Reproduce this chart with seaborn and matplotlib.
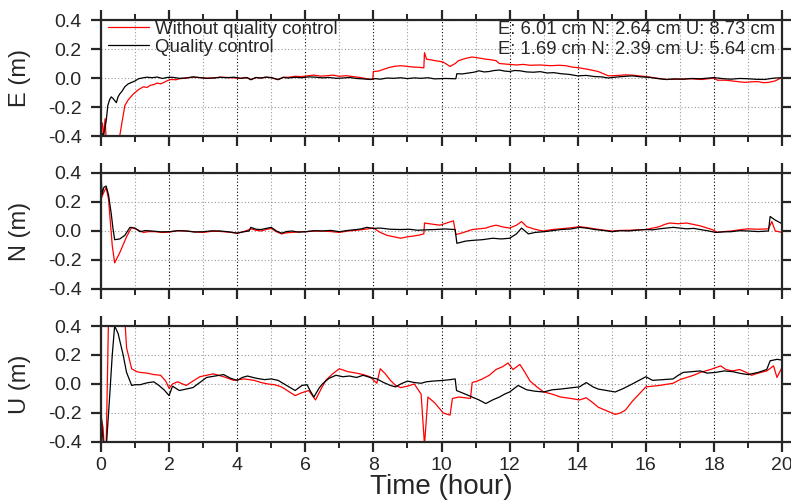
import numpy as np
import matplotlib
matplotlib.use("Agg")
import matplotlib.pyplot as plt
import seaborn as sns
from matplotlib.ticker import MultipleLocator

# (time in hours, position error in m)
e_black = [(0, -0.4), (0.03, -0.38), (0.06, -0.42), (0.1, -0.36), (0.15, -0.3), (0.2, -0.19), (0.25, -0.15),
           (0.3, -0.13), (0.35, -0.14), (0.45, -0.17), (0.5, -0.13), (0.55, -0.11), (0.62, -0.09), (0.7, -0.06),
           (0.8, -0.04), (0.9, -0.03), (1.0, -0.02), (1.1, -0.005), (1.2, 0.0), (1.35, 0.006), (1.5, 0.002),
           (1.65, 0.007), (1.8, -0.003), (1.95, 0.004), (2.1, 0.005), (2.3, -0.002), (2.5, 0.0), (2.7, 0.008),
           (2.9, 0.003), (3.1, -0.002), (3.3, 0.0), (3.5, 0.005), (3.7, 0.002), (3.9, 0.006), (4.1, -0.002),
           (4.3, 0.003), (4.4, -0.012), (4.55, 0.004), (4.7, 0.0), (4.85, 0.006), (5.0, 0.003), (5.2, -0.01),
           (5.35, 0.004), (5.5, 0.0), (5.7, 0.005), (5.9, 0.002), (6.1, 0.008), (6.3, 0.006), (6.5, 0.001),
           (6.7, 0.004), (6.9, -0.002), (7.1, 0.0), (7.3, 0.004), (7.5, -0.003), (7.7, -0.006), (7.9, -0.01),
           (8.05, -0.004), (8.2, -0.008), (8.4, 0.0), (8.6, -0.002), (8.8, 0.002), (9.0, -0.004), (9.2, 0.001),
           (9.4, -0.002), (9.6, 0.002), (9.8, -0.006), (10.1, -0.003), (10.42, -0.005), (10.45, 0.03),
           (10.6, 0.028), (10.8, 0.035), (10.95, 0.04), (11.1, 0.05), (11.25, 0.042), (11.4, 0.045),
           (11.55, 0.052), (11.7, 0.055), (11.85, 0.048), (12.0, 0.045), (12.15, 0.052), (12.3, 0.05),
           (12.5, 0.042), (12.7, 0.04), (12.9, 0.044), (13.1, 0.035), (13.3, 0.037), (13.5, 0.03),
           (13.75, 0.025), (14.0, 0.015), (14.25, 0.018), (14.5, 0.01), (14.7, 0.008), (14.9, 0.0), (15.1, 0.006),
           (15.3, 0.01), (15.6, 0.015), (15.85, 0.008), (16.1, 0.005), (16.35, -0.004), (16.6, -0.01),
           (16.85, -0.006), (17.1, -0.008), (17.35, -0.003), (17.6, -0.005), (17.8, -0.001), (18.0, 0.003),
           (18.25, -0.004), (18.5, -0.008), (18.75, -0.003), (19.0, -0.005), (19.25, -0.009), (19.5, -0.01),
           (19.65, -0.004), (19.8, 0.0), (20.0, 0.002)]
e_red = [(0, -0.35), (0.04, -0.31), (0.07, -0.4), (0.12, -0.28), (0.15, -0.42), (0.3, -0.45), (0.5, -0.45),
         (0.55, -0.4), (0.62, -0.3), (0.7, -0.19), (0.8, -0.15), (0.95, -0.11), (1.1, -0.08), (1.25, -0.06),
         (1.35, -0.065), (1.45, -0.05), (1.55, -0.045), (1.65, -0.035), (1.75, -0.04), (1.85, -0.03),
         (1.95, -0.018), (2.05, -0.01), (2.2, -0.012), (2.3, -0.005), (2.5, 0.0), (2.7, 0.006), (2.9, 0.003),
         (3.1, -0.001), (3.3, 0.0), (3.5, 0.006), (3.7, 0.004), (3.9, 0.001), (4.1, -0.002), (4.25, 0.004),
         (4.4, -0.01), (4.55, 0.002), (4.7, 0.0), (4.85, 0.006), (5.0, 0.002), (5.2, -0.012), (5.35, 0.006),
         (5.5, 0.005), (5.7, 0.012), (5.9, 0.01), (6.1, 0.016), (6.25, 0.02), (6.45, 0.013), (6.6, 0.015),
         (6.8, 0.02), (7.0, 0.012), (7.2, 0.016), (7.4, 0.01), (7.6, 0.004), (7.8, -0.005), (7.98, -0.01),
         (8.0, 0.045), (8.15, 0.048), (8.3, 0.06), (8.45, 0.072), (8.6, 0.08), (8.8, 0.085), (9.0, 0.08),
         (9.2, 0.075), (9.35, 0.074), (9.48, 0.07), (9.5, 0.175), (9.56, 0.13), (9.7, 0.125), (9.8, 0.12),
         (9.95, 0.115), (10.05, 0.11), (10.15, 0.095), (10.25, 0.08), (10.4, 0.1), (10.5, 0.12), (10.7, 0.135),
         (10.9, 0.145), (11.1, 0.138), (11.3, 0.13), (11.45, 0.126), (11.6, 0.12), (11.7, 0.1), (11.95, 0.095),
         (12.2, 0.09), (12.4, 0.094), (12.6, 0.088), (12.9, 0.09), (13.2, 0.085), (13.45, 0.088),
         (13.65, 0.085), (13.85, 0.075), (14.05, 0.07), (14.3, 0.06), (14.6, 0.045), (14.75, 0.03),
         (14.9, 0.015), (15.2, 0.018), (15.4, 0.022), (15.6, 0.02), (15.8, 0.015), (16.0, 0.01), (16.3, 0.0),
         (16.6, -0.01), (16.95, -0.008), (17.3, -0.005), (17.65, -0.01), (18.0, 0.0), (18.1, -0.015),
         (18.35, -0.015), (18.6, -0.022), (18.9, -0.03), (19.1, -0.026), (19.3, -0.025), (19.45, -0.032),
         (19.6, -0.03), (19.8, -0.02), (20.0, 0.005)]

n_black = [(0, 0.4), (0.03, 0.25), (0.08, 0.3), (0.15, 0.31), (0.22, 0.25), (0.3, 0.12), (0.35, 0.02),
           (0.4, -0.06), (0.55, -0.055), (0.7, -0.03), (0.85, 0.025), (1.0, 0.02), (1.15, -0.005), (1.3, 0.003),
           (1.5, 0.0), (1.75, -0.006), (2.0, -0.005), (2.25, 0.002), (2.5, 0.0), (2.75, -0.007), (3.0, -0.005),
           (3.25, 0.001), (3.5, 0.0), (3.75, -0.006), (4.0, -0.015), (4.2, -0.005), (4.35, 0.0), (4.4, 0.025),
           (4.55, 0.012), (4.7, 0.01), (4.85, 0.018), (5.0, 0.025), (5.15, 0.0), (5.3, -0.015), (5.45, -0.004),
           (5.6, 0.0), (5.8, -0.008), (6.0, -0.005), (6.25, 0.002), (6.5, 0.0), (6.75, 0.004), (7.0, -0.005),
           (7.25, 0.004), (7.5, 0.01), (7.65, 0.015), (7.8, 0.025), (8.0, 0.018), (8.2, 0.02), (8.5, 0.012),
           (8.8, 0.01), (9.05, 0.012), (9.3, 0.005), (9.55, 0.008), (9.8, 0.01), (10.1, 0.014), (10.4, 0.01),
           (10.45, -0.085), (10.7, -0.07), (10.9, -0.065), (11.2, -0.06), (11.5, -0.05), (11.75, -0.055),
           (12.0, -0.05), (12.2, -0.02), (12.35, 0.02), (12.55, -0.02), (12.75, -0.01), (13.0, -0.005),
           (13.25, 0.002), (13.5, 0.01), (13.8, 0.014), (14.05, 0.025), (14.25, 0.02), (14.5, 0.01),
           (14.75, 0.004), (15.0, -0.005), (15.25, 0.002), (15.5, 0.0), (15.75, 0.006), (16.0, 0.01),
           (16.2, 0.008), (16.4, 0.015), (16.6, 0.02), (16.8, 0.025), (17.0, 0.02), (17.2, 0.015),
           (17.4, 0.018), (17.6, 0.01), (17.85, 0.0), (18.05, -0.01), (18.25, -0.006), (18.5, -0.005),
           (18.75, 0.002), (19.0, 0.0), (19.3, -0.004), (19.6, 0.0), (19.65, 0.1), (19.8, 0.075), (20.0, 0.05)]
n_red = [(0, 0.22), (0.05, 0.25), (0.15, 0.3), (0.22, 0.22), (0.27, 0.075), (0.33, -0.1), (0.4, -0.22),
         (0.55, -0.15), (0.75, -0.04), (0.9, 0.025), (1.05, 0.01), (1.25, -0.01), (1.4, -0.004), (1.6, -0.005),
         (1.8, -0.01), (2.0, -0.008), (2.25, 0.002), (2.5, 0.0), (2.75, -0.006), (3.0, -0.01), (3.25, -0.002),
         (3.5, -0.003), (3.75, -0.008), (4.0, -0.015), (4.2, -0.004), (4.4, 0.015), (4.55, 0.005), (4.7, 0.0),
         (4.85, 0.01), (5.0, 0.018), (5.15, -0.005), (5.3, -0.02), (5.45, -0.012), (5.6, -0.01), (5.8, -0.006),
         (6.0, -0.005), (6.25, -0.001), (6.5, 0.0), (6.75, -0.004), (7.0, -0.01), (7.25, 0.0), (7.5, 0.005),
         (7.75, 0.012), (8.0, 0.02), (8.2, -0.01), (8.4, -0.03), (8.6, -0.04), (8.8, -0.05), (9.0, -0.04),
         (9.17, -0.035), (9.35, -0.028), (9.48, -0.02), (9.5, 0.055), (9.7, 0.048), (9.95, 0.04), (10.15, 0.055),
         (10.35, 0.07), (10.42, -0.025), (10.65, -0.01), (10.9, 0.01), (11.1, 0.015), (11.3, 0.02),
         (11.45, 0.032), (11.6, 0.04), (11.8, 0.028), (12.0, 0.02), (12.2, 0.04), (12.35, 0.065), (12.5, 0.03),
         (12.7, 0.015), (12.85, 0.006), (13.0, 0.0), (13.25, 0.01), (13.5, 0.015), (13.8, 0.022),
         (14.05, 0.03), (14.25, 0.024), (14.5, 0.015), (14.75, 0.006), (15.0, 0.0), (15.25, 0.004),
         (15.5, 0.005), (15.75, 0.008), (16.0, 0.01), (16.2, 0.02), (16.4, 0.03), (16.55, 0.045),
         (16.7, 0.055), (16.95, 0.05), (17.2, 0.055), (17.4, 0.045), (17.6, 0.035), (17.8, 0.02),
         (17.95, 0.01), (18.1, -0.01), (18.3, -0.004), (18.5, 0.0), (18.75, 0.008), (19.0, 0.015),
         (19.3, 0.012), (19.6, 0.015), (19.7, 0.065), (19.8, 0.0), (20.0, -0.01)]

u_black = [(0, -0.18), (0.03, -0.3), (0.08, -0.45), (0.15, -0.45), (0.25, -0.1), (0.33, 0.2), (0.4, 0.4),
           (0.5, 0.35), (0.65, 0.2), (0.75, 0.08), (0.9, -0.01), (1.0, -0.005), (1.15, -0.005), (1.35, 0.008),
           (1.55, 0.015), (1.7, -0.01), (1.85, -0.04), (2.0, -0.08), (2.1, -0.015), (2.2, -0.03), (2.3, -0.045),
           (2.5, -0.035), (2.7, -0.025), (2.9, 0.01), (3.1, 0.045), (3.35, 0.055), (3.6, 0.065), (3.8, 0.04),
           (4.0, 0.025), (4.15, 0.045), (4.3, 0.055), (4.55, 0.04), (4.8, 0.03), (5.0, 0.035), (5.2, 0.025),
           (5.45, -0.01), (5.7, -0.045), (5.9, -0.01), (6.05, -0.005), (6.15, -0.05), (6.25, -0.09),
           (6.4, -0.03), (6.5, 0.0), (6.7, 0.04), (6.9, 0.06), (7.1, 0.05), (7.3, 0.055), (7.5, 0.045),
           (7.7, 0.06), (7.9, 0.045), (8.1, 0.035), (8.3, 0.01), (8.5, -0.01), (8.65, -0.02), (8.8, 0.0),
           (9.0, 0.02), (9.2, 0.01), (9.4, 0.005), (9.55, 0.015), (9.75, 0.02), (10.05, 0.025), (10.25, 0.03),
           (10.4, 0.035), (10.44, -0.045), (10.7, -0.07), (10.9, -0.09), (11.1, -0.11), (11.3, -0.135),
           (11.5, -0.11), (11.7, -0.09), (11.85, -0.07), (12.0, -0.055), (12.25, -0.01), (12.5, -0.04),
           (12.75, -0.05), (13.0, -0.055), (13.25, -0.04), (13.5, -0.035), (13.85, -0.025), (14.05, -0.02),
           (14.25, 0.01), (14.45, -0.02), (14.6, -0.035), (14.85, -0.045), (15.1, -0.055), (15.35, -0.03),
           (15.6, 0.0), (15.8, 0.025), (16.0, 0.05), (16.2, 0.025), (16.5, 0.03), (16.8, 0.035), (16.95, 0.06),
           (17.1, 0.08), (17.35, 0.085), (17.6, 0.09), (17.8, 0.075), (18.05, 0.08), (18.3, 0.09),
           (18.55, 0.085), (18.8, 0.072), (19.0, 0.065), (19.3, 0.08), (19.55, 0.1), (19.65, 0.16),
           (19.85, 0.17), (20.0, 0.165)]
u_red = [(0, -0.23), (0.06, -0.3), (0.1, -0.45), (0.15, -0.45), (0.22, 0.45), (0.5, 0.45), (0.7, 0.45),
         (0.75, 0.25), (0.9, 0.105), (1.05, 0.085), (1.15, 0.08), (1.35, 0.075), (1.55, 0.065), (1.75, 0.06),
         (1.9, 0.02), (2.0, -0.03), (2.1, 0.0), (2.25, 0.015), (2.4, 0.0), (2.5, -0.01), (2.7, 0.02),
         (2.9, 0.05), (3.1, 0.06), (3.3, 0.07), (3.6, 0.05), (3.9, 0.025), (4.2, 0.035), (4.5, 0.025),
         (4.7, 0.01), (4.9, 0.0), (5.1, -0.005), (5.3, -0.02), (5.5, -0.05), (5.7, -0.08), (5.9, -0.06),
         (6.1, -0.045), (6.3, -0.11), (6.45, -0.04), (6.6, 0.025), (6.8, 0.07), (7.0, 0.105), (7.25, 0.085),
         (7.5, 0.075), (7.7, 0.065), (7.9, 0.05), (8.1, 0.005), (8.2, 0.105), (8.35, 0.07), (8.5, 0.025),
         (8.65, -0.01), (8.8, -0.025), (9.0, -0.015), (9.2, 0.0), (9.4, -0.07), (9.5, -0.42), (9.6, -0.09),
         (9.8, -0.13), (10.05, -0.2), (10.25, -0.215), (10.32, -0.1), (10.5, -0.09), (10.7, -0.095),
         (10.85, -0.1), (10.9, 0.01), (11.05, 0.02), (11.2, 0.035), (11.4, 0.06), (11.6, 0.1), (11.8, 0.12),
         (11.95, 0.145), (12.1, 0.1), (12.3, 0.135), (12.45, 0.08), (12.6, 0.02), (12.8, -0.02),
         (13.0, -0.055), (13.25, -0.07), (13.5, -0.09), (13.8, -0.1), (14.05, -0.11), (14.25, -0.095),
         (14.45, -0.13), (14.6, -0.16), (14.85, -0.185), (15.1, -0.21), (15.25, -0.2), (15.4, -0.18),
         (15.6, -0.12), (15.8, -0.07), (16.0, -0.02), (16.4, -0.01), (16.8, 0.005), (17.0, 0.03),
         (17.2, 0.045), (17.4, 0.06), (17.6, 0.08), (17.9, 0.1), (18.2, 0.125), (18.35, 0.1), (18.55, 0.09),
         (18.75, 0.1), (18.95, 0.08), (19.1, 0.06), (19.3, 0.075), (19.55, 0.09), (19.75, 0.125),
         (19.85, 0.045), (20.0, 0.115)]

panels = [("E (m)", e_red, e_black), ("N (m)", n_red, n_black), ("U (m)", u_red, u_black)]
rms_lines = ["E: 6.01 cm N: 2.64 cm U: 8.73 cm", "E: 1.69 cm N: 2.39 cm U: 5.64 cm"]
legend_labels = ["Without quality control", "Quality control"]

sns.set_style("ticks")
plt.rcParams['font.family'] = ['Liberation Sans', 'DejaVu Sans']
plt.rcParams['axes.linewidth'] = 1.6

fig = plt.figure(figsize=(7.91, 5.01), dpi=100)
left, width, height = 0.1277, 0.861, 0.2315
bottoms = [0.7285, 0.4232, 0.1178]

for i, (ylab, red, black) in enumerate(panels):
    ax = fig.add_axes([left, bottoms[i], width, height])
    red = np.array(red).T
    black = np.array(black).T
    sns.lineplot(x=red[0], y=red[1], color="red", lw=0.9, ax=ax, estimator=None, sort=False,
                 label=legend_labels[0])
    sns.lineplot(x=black[0], y=black[1], color="black", lw=0.9, ax=ax, estimator=None, sort=False,
                 label=legend_labels[1])
    ax.set_xlim(0, 20)
    ax.set_ylim(-0.4, 0.4)
    ax.xaxis.set_major_locator(MultipleLocator(2))
    ax.xaxis.set_minor_locator(MultipleLocator(1))
    ax.yaxis.set_major_locator(MultipleLocator(0.2))
    ax.set_yticklabels([f"{v:.1f}" for v in ax.get_yticks()])
    ax.grid(which="major", axis="x", color="black", linestyle=(0, (1, 2)), lw=0.8)
    ax.grid(which="minor", axis="x", color="#999999", linestyle=(0, (1, 2)), lw=0.8)
    ax.grid(which="major", axis="y", color="#999999", linestyle=(0, (1, 2)), lw=0.8)
    ax.tick_params(which="major", direction="out", length=7, width=1.6, top=True, right=True,
                   labelsize=14, pad=7)
    ax.tick_params(which="minor", direction="out", length=4.5, width=1.4, top=True, right=False)
    ax.set_ylabel(ylab, fontsize=17, labelpad=12)
    if i < 2:
        ax.set_xticklabels([])
        ax.set_xlabel("")
    else:
        ax.tick_params(axis="x", which="major", pad=4)
        ax.set_xlabel("Time (hour)", fontsize=20, labelpad=0)
    if i == 0:
        ax.legend(loc="upper left", bbox_to_anchor=(0.009, 1.0), frameon=False, fontsize=13.4,
                  handlelength=2.2, handletextpad=0.3, labelspacing=0.05, borderaxespad=0.0, borderpad=0.05)
        ax.text(0.99, 0.915, rms_lines[0], transform=ax.transAxes, ha="right", va="center", fontsize=13.3)
        ax.text(0.99, 0.75, rms_lines[1], transform=ax.transAxes, ha="right", va="center", fontsize=13.3)
    else:
        ax.get_legend().remove()

fig.savefig("out.png", dpi=100)
